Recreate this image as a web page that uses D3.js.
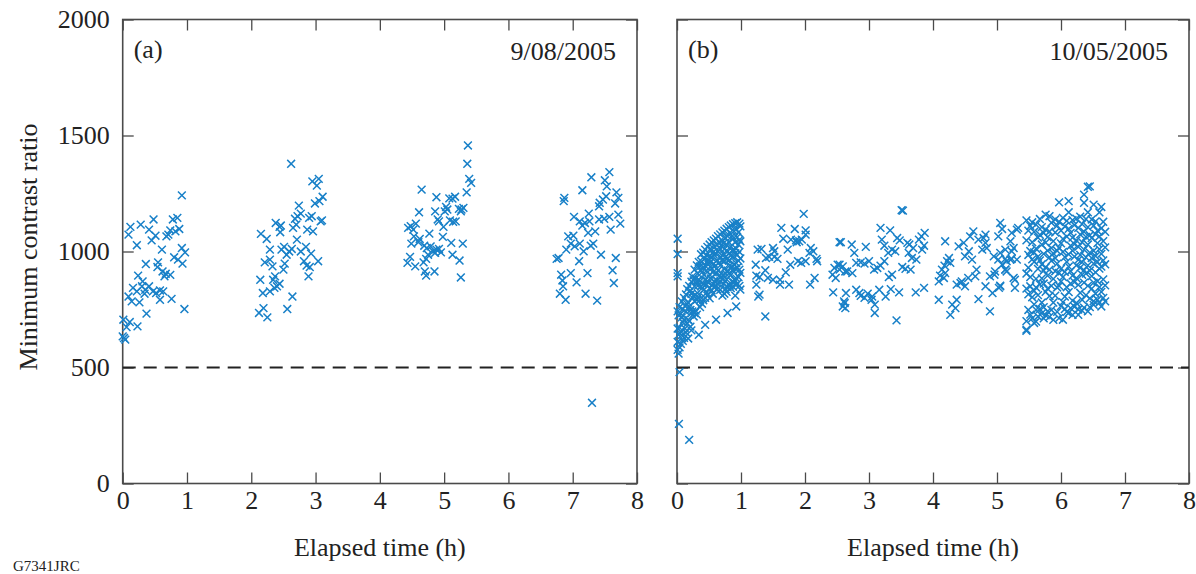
<!DOCTYPE html>
<html>
<head>
<meta charset="utf-8">
<script src="https://cdn.jsdelivr.net/npm/d3@7"></script>
<style>
  body { margin: 0; background: #fff; }
  text { font-family: "Liberation Serif", "Times New Roman", serif; fill: #222; }
</style>
</head>
<body>
<svg id="chart" width="1196" height="574"></svg>
<script>
// axis ticks
const hourTicks = [0, 1, 2, 3, 4, 5, 6, 7, 8];
const ratioTicks = [0, 500, 1000, 1500, 2000];
const threshold = 500;

// panel (a) 9/08/2005 : [elapsed h, min contrast ratio]
const a1 = [[0.92,1242],[0.12,1106],[0.09,1073],[0.28,1116],[0.48,1138],[0.41,1094],[0.51,1068],[0.45,1048],[0.78,1138],[0.85,1145],[0.74,1091],[0.82,1087],[0.88,1097],[0.68,1065],[0.71,1073],[0.22,1027],[0.61,1008],[0.92,1015],[0.97,996],[0.80,975],[0.86,965],[0.93,948],[0.36,946],[0.55,953],[0.54,933],[0.62,914],[0.67,904],[0.74,899],[0.65,893],[0.24,896],[0.31,871],[0.16,843],[0.22,828],[0.30,850],[0.35,835],[0.41,850],[0.34,818],[0.47,828],[0.52,821],[0.58,832],[0.63,828],[0.09,806],[0.14,785],[0.26,781],[0.58,792],[0.76,796],[0.37,732],[0.96,752],[0.01,706],[0.11,696],[0.06,674],[0.23,677],[0.00,634],[0.04,620],[0.02,627]];
const a2 = [[2.62,1378],[2.95,1302],[3.05,1313],[3.02,1284],[3.11,1236],[3.06,1217],[2.99,1207],[2.74,1198],[2.77,1163],[2.72,1152],[2.68,1141],[2.90,1145],[2.94,1152],[3.08,1130],[3.10,1134],[2.38,1123],[2.44,1106],[2.46,1112],[2.45,1083],[2.65,1102],[2.70,1116],[2.87,1094],[2.96,1087],[2.15,1076],[2.24,1054],[2.71,1051],[2.29,1008],[2.47,1008],[2.51,1020],[2.55,986],[2.59,1000],[2.63,1011],[2.77,1000],[2.85,1020],[2.93,991],[2.21,953],[2.29,965],[2.33,936],[2.52,948],[2.50,922],[2.82,958],[2.86,939],[2.91,933],[3.04,958],[2.37,893],[2.34,878],[2.44,861],[2.40,850],[2.36,843],[2.14,878],[2.89,893],[2.18,821],[2.29,828],[2.64,806],[2.12,735],[2.19,756],[2.25,716],[2.56,752]];
const a3 = [[5.37,1457],[5.36,1378],[5.39,1313],[5.42,1296],[4.65,1267],[5.35,1255],[4.88,1234],[5.08,1229],[5.17,1236],[5.13,1228],[5.03,1192],[5.05,1181],[5.01,1173],[4.61,1169],[4.86,1173],[5.23,1184],[5.27,1181],[5.30,1188],[5.26,1173],[4.90,1138],[4.92,1130],[5.09,1134],[5.14,1128],[5.18,1130],[4.99,1106],[4.44,1102],[4.48,1109],[4.56,1120],[4.52,1094],[4.77,1077],[4.53,1065],[4.62,1054],[4.60,1040],[4.98,1063],[4.49,1034],[4.69,1025],[4.73,1015],[5.11,1037],[5.29,1034],[4.79,1022],[4.83,1001],[4.88,1008],[4.92,1011],[4.95,996],[4.86,994],[4.75,986],[4.72,968],[5.13,986],[4.47,977],[4.43,951],[4.55,936],[4.68,953],[4.70,914],[4.72,896],[4.85,914],[5.24,961],[5.26,888]];
const a4 = [[7.57,1342],[7.29,1320],[7.50,1307],[7.53,1281],[7.15,1264],[7.68,1255],[7.71,1231],[7.66,1207],[6.87,1231],[6.86,1217],[7.52,1238],[7.47,1224],[7.42,1210],[7.41,1195],[7.25,1163],[7.02,1149],[7.11,1130],[7.19,1123],[7.15,1112],[7.41,1138],[7.49,1141],[7.57,1149],[7.71,1159],[7.74,1120],[7.26,1130],[7.35,1087],[7.24,1080],[7.59,1094],[6.93,1065],[7.01,1068],[6.97,1034],[6.90,1008],[7.03,1022],[7.11,1034],[7.17,1001],[7.28,1025],[7.32,1034],[6.75,968],[6.78,972],[7.10,958],[7.44,986],[7.67,972],[6.82,900],[6.84,875],[6.85,850],[6.80,818],[6.89,792],[6.97,907],[7.06,867],[7.23,907],[7.20,818],[7.38,788],[7.62,919],[7.64,864],[7.30,348]];

// panel (b) 10/05/2005 : dense runs kept as [elapsed h, [ratios...]] columns
const b1Cols = [
  [0.01,[1055,989,907,893,742,668,610,576]],
  [0.025,[725,641,560]],
  [0.04,[760,672,587]],
  [0.06,[731,655,602]],
  [0.075,[785,716,640]],
  [0.09,[752,695,615]],
  [0.11,[800,706,628]],
  [0.125,[765,668]],
  [0.14,[815,741,651]],
  [0.16,[838,773,690]],
  [0.175,[780,706,625]],
  [0.19,[852,762,700]],
  [0.21,[831,748,676]],
  [0.225,[870,818,733,660]],
  [0.24,[892,801,742]],
  [0.26,[876,809,720]],
  [0.275,[922,850,785,735]],
  [0.29,[884,813,745]],
  [0.31,[940,871,792,728]],
  [0.325,[905,852,801]],
  [0.34,[955,880,815,641]],
  [0.36,[936,872,792,760]],
  [0.375,[988,921,850]],
  [0.39,[955,910,842,775]],
  [0.41,[995,931,860,790]],
  [0.425,[968,898,836]],
  [0.44,[1008,938,877,800,684]],
  [0.46,[985,918,858,822]],
  [0.475,[1020,957,872,810]],
  [0.49,[962,944,866]],
  [0.51,[1030,978,900,842,798]],
  [0.525,[1012,955,884]],
  [0.54,[1040,975,928,832]],
  [0.56,[996,910,860,818]],
  [0.575,[1048,986,948,846]],
  [0.59,[1020,936,869]],
  [0.61,[1055,990,905,852,706]],
  [0.625,[1028,962,875,838]],
  [0.64,[1066,1000,918,862]],
  [0.66,[1040,952,895]],
  [0.675,[1074,1012,940,870,835]],
  [0.69,[1027,975,892]],
  [0.71,[1082,1046,960,880,810]],
  [0.725,[1035,990,898,862]],
  [0.74,[1090,1010,958,925,818]],
  [0.76,[1058,978,905,838]],
  [0.775,[1098,1030,966,880,826]],
  [0.79,[1066,1000,918,846,735]],
  [0.81,[1105,1040,962,905,858]],
  [0.825,[1080,993,940,853]],
  [0.84,[1112,1022,982,898,842]],
  [0.86,[1066,1004,932,870]],
  [0.875,[1118,1054,975,918,848]],
  [0.89,[1088,1006,945,867]],
  [0.91,[1122,1040,993,926,875,810]],
  [0.925,[1096,1012,950,884,763]],
  [0.94,[1126,1062,985,930,860]],
  [0.96,[1082,1030,960,890]],
  [0.975,[1120,1050,998,922,852]],
  [0.99,[1108,1044,970,908,836]]
];
const b0 = [[0.04,480],[0.03,257],[0.19,188]];
const b2 = [[1.98,1162],[1.63,1102],[1.84,1097],[2.01,1091],[1.66,1055],[1.78,1051],[1.86,1048],[1.91,1044],[1.95,1051],[1.87,1040],[2.01,1073],[1.26,1008],[1.32,1011],[1.50,1015],[1.52,1001],[1.73,1008],[2.09,1015],[2.13,1001],[2.07,994],[1.39,972],[1.44,977],[1.52,977],[1.57,968],[2.18,968],[2.19,958],[1.23,943],[1.38,919],[1.24,896],[1.29,890],[1.42,886],[1.50,878],[1.61,878],[1.70,910],[1.77,943],[1.89,958],[1.94,951],[2.01,958],[1.24,857],[1.29,814],[1.27,806],[1.61,857],[1.75,857],[2.08,857],[2.15,886],[1.38,720]];
const b3 = [[3.51,1178],[3.53,1176],[3.18,1102],[3.33,1091],[3.87,1080],[3.82,1065],[3.78,1051],[2.56,1040],[2.73,1030],[2.95,1020],[2.77,994],[3.20,1051],[3.24,1025],[3.44,1058],[3.48,1048],[3.60,1037],[3.63,1030],[3.36,1008],[3.41,1001],[3.30,994],[3.69,1015],[3.86,1025],[3.83,1008],[3.62,994],[2.54,943],[2.59,936],[2.66,914],[2.74,907],[2.80,951],[2.87,953],[2.93,948],[3.00,958],[3.08,922],[3.13,929],[3.18,939],[3.24,958],[3.31,890],[3.36,900],[3.52,933],[3.57,925],[3.65,922],[3.67,972],[3.74,965],[2.64,821],[2.80,835],[2.85,821],[2.87,809],[2.93,800],[2.98,818],[3.04,792],[3.09,771],[3.16,835],[3.26,806],[3.34,838],[3.47,824],[3.73,824],[3.86,843],[3.05,806],[2.59,763],[2.62,778],[3.09,735],[3.43,703],[2.46,929],[2.51,943],[2.54,922],[2.63,914],[2.43,900],[2.48,886],[2.54,1040],[2.44,824],[2.61,785],[2.63,756]];
const b4 = [[4.19,1044],[4.09,871],[4.11,896],[4.14,922],[4.18,939],[4.22,958],[4.25,972],[4.17,886],[4.19,907],[4.27,951],[4.09,792],[4.30,771],[4.37,792],[4.27,727],[4.35,756],[4.40,1022],[4.48,1037],[4.56,1001],[4.63,1087],[4.58,1065],[4.71,1051],[4.79,1058],[4.82,1037],[4.77,1008],[4.84,1015],[4.50,979],[4.61,965],[4.68,922],[4.66,893],[4.55,886],[4.43,864],[4.50,850],[4.37,857],[4.45,871],[4.82,850],[4.93,821],[5.03,843],[5.05,853],[4.89,893],[4.97,914],[4.96,900],[5.13,922],[5.15,914],[5.26,886],[5.28,843],[4.89,742],[4.71,795],[4.95,979],[5.02,965],[5.08,943],[5.15,958],[5.21,965],[5.23,1001],[5.26,1015],[5.31,965],[5.05,994],[5.13,1008],[5.05,1123],[5.08,1097],[5.02,1065],[5.23,1080],[5.33,1102],[5.21,1044],[4.82,1073],[5.31,1094],[5.13,968],[5.23,968],[5.13,922],[5.28,878],[5.05,850],[5.46,663]];
const b5Cols = [
  [5.46,[1134,1048,905,840,700,658]],
  [5.49,[1090,985,930,815,748]],
  [5.52,[1110,1002,890,850,728]],
  [5.55,[1126,1040,966,803,712]],
  [5.58,[1085,996,955,830,772,692]],
  [5.61,[1116,1012,882,845,748,698]],
  [5.64,[1060,978,925,812,720]],
  [5.67,[1140,1072,962,858,752]],
  [5.70,[1105,1030,945,884,780,733]],
  [5.73,[1080,990,918,862,760,712]],
  [5.76,[1159,1094,1038,932,826,725]],
  [5.79,[1062,1004,896,840,742]],
  [5.82,[1152,1086,975,922,808,718]],
  [5.85,[1124,1015,960,852,748]],
  [5.88,[1045,992,882,780,705]],
  [5.91,[1138,1082,972,915,810]],
  [5.94,[1112,1003,948,845,740]],
  [5.97,[1212,1128,1016,908,852,713]],
  [6.00,[1090,1035,925,870,765]],
  [6.03,[1145,1054,998,890,782,706]],
  [6.06,[1108,976,912,806,752]],
  [6.09,[1132,1064,955,846,740]],
  [6.12,[1217,1169,1098,988,935,825,735]],
  [6.15,[1080,1025,915,862,756]],
  [6.18,[1135,1060,1004,896,788,727]],
  [6.21,[1114,1032,978,868,762]],
  [6.24,[1142,1048,940,885,778]],
  [6.27,[1102,1020,964,856,750,727]],
  [6.30,[1150,1074,985,930,822]],
  [6.33,[1118,1040,954,900,792,745]],
  [6.36,[1245,1210,1085,1008,920,866,758]],
  [6.39,[1140,1063,975,905,812]],
  [6.42,[1279,1169,1105,1030,940,852,742]],
  [6.45,[1281,1070,995,918,798,760]],
  [6.48,[1138,1058,972,894,840]],
  [6.51,[1202,1112,1003,948,866,786,770]],
  [6.54,[1130,1075,980,910,818]],
  [6.57,[1090,1036,955,872,792]],
  [6.60,[1169,1065,1010,926,846,780]],
  [6.63,[1192,1100,990,935,826,763]],
  [6.66,[1128,1045,962,880,800]],
  [6.69,[1085,1018,945,854,785]]
];

const fromColumns = cols => cols.flatMap(([t, vs]) => vs.map(v => [t, v]));

const panels = [
  { tag: "(a)", date: "9/08/2005", x0: 122.7, x1: 637, yLabels: true,
    points: [].concat(a1, a2, a3, a4) },
  { tag: "(b)", date: "10/05/2005", x0: 677, x1: 1189, yLabels: false,
    points: [].concat(fromColumns(b1Cols), b0, b2, b3, b4, fromColumns(b5Cols)) }
];

const svg = d3.select("#chart");
const plotTop = 19.5, plotBottom = 483.5;
const frameColor = "#4a4a4a";
const markColor = "#1880c8";

panels.forEach(p => {
  const x = d3.scaleLinear().domain([0, 8]).range([p.x0, p.x1]);
  const y = d3.scaleLinear().domain([0, 2000]).range([plotBottom, plotTop]);
  const g = svg.append("g");

  // ticks pointing inward on all four sides
  g.append("g")
    .attr("transform", `translate(0,${plotBottom})`)
    .call(d3.axisBottom(x).tickValues(hourTicks).tickSize(-11).tickSizeOuter(0).tickPadding(7));
  g.append("g")
    .attr("transform", `translate(0,${plotTop})`)
    .call(d3.axisTop(x).tickValues(hourTicks).tickSize(-11).tickSizeOuter(0).tickFormat(""));
  g.append("g")
    .attr("transform", `translate(${p.x0},0)`)
    .call(d3.axisLeft(y).tickValues(ratioTicks).tickSize(-11).tickSizeOuter(0).tickPadding(13)
      .tickFormat(p.yLabels ? d3.format("d") : ""));
  g.append("g")
    .attr("transform", `translate(${p.x1},0)`)
    .call(d3.axisRight(y).tickValues(ratioTicks).tickSize(-11).tickSizeOuter(0).tickFormat(""));

  g.selectAll(".domain").remove();
  g.selectAll(".tick line").attr("stroke", frameColor).attr("stroke-width", 1.3);
  g.selectAll(".tick text")
    .style("font-family", '"Liberation Serif", serif')
    .style("font-size", "26px")
    .attr("fill", "#222");

  // frame
  g.append("rect")
    .attr("x", p.x0).attr("y", plotTop)
    .attr("width", p.x1 - p.x0).attr("height", plotBottom - plotTop)
    .attr("fill", "none")
    .attr("stroke", frameColor)
    .attr("stroke-width", 1.6);

  // 500 threshold
  g.append("line")
    .attr("x1", p.x0).attr("x2", p.x1)
    .attr("y1", y(threshold)).attr("y2", y(threshold))
    .attr("stroke", "#222")
    .attr("stroke-width", 2)
    .attr("stroke-dasharray", "13,8");

  // x markers
  g.append("g").selectAll("path")
    .data(p.points)
    .enter()
    .append("path")
    .attr("transform", d => `translate(${x(d[0])},${y(d[1])})`)
    .attr("d", "M-3.9,-3.9L3.9,3.9M-3.9,3.9L3.9,-3.9")
    .attr("stroke", markColor)
    .attr("stroke-width", 1.5)
    .attr("fill", "none");

  g.append("text")
    .attr("x", p.x0 + 11).attr("y", 58)
    .style("font-size", "26px")
    .text(p.tag);
  g.append("text")
    .attr("x", p.x1 - 21).attr("y", 60)
    .attr("text-anchor", "end")
    .style("font-size", "26px")
    .text(p.date);

  g.append("text")
    .attr("x", (p.x0 + p.x1) / 2).attr("y", 556)
    .attr("text-anchor", "middle")
    .style("font-size", "26px")
    .text("Elapsed time (h)");
});

svg.append("text")
  .attr("transform", "translate(37,247) rotate(-90)")
  .attr("text-anchor", "middle")
  .style("font-size", "26px")
  .text("Minimum contrast ratio");

svg.append("text")
  .attr("x", 13).attr("y", 571)
  .style("font-size", "15px")
  .text("G7341JRC");
</script>
</body>
</html>
